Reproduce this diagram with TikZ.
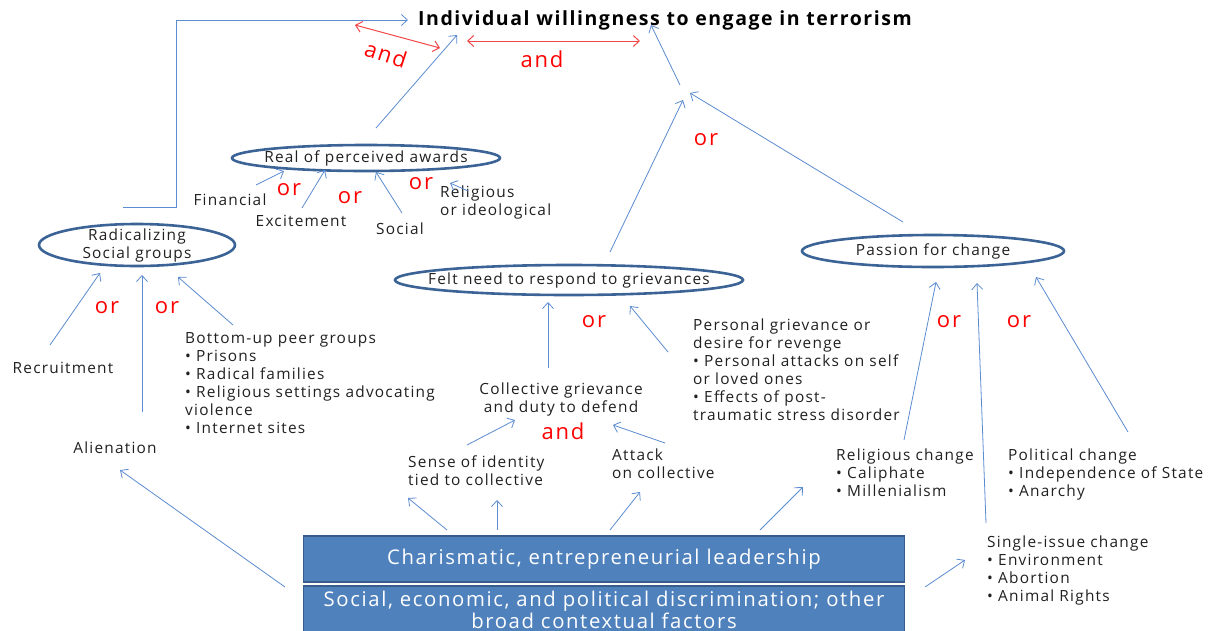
\documentclass[tikz,border=0pt]{standalone}
\usepackage{fontspec}
\setmainfont{Open Sans}[LetterSpace=8]
\usetikzlibrary{shapes.geometric,arrows.meta}
\definecolor{lnblue}{HTML}{5B8BD0}
\definecolor{ellblue}{HTML}{3C6396}
\definecolor{boxfill}{HTML}{4F81BD}
\definecolor{boxedge}{HTML}{385D8A}
\definecolor{andred}{HTML}{F04848}
\definecolor{txtc}{HTML}{202020}
\tikzset{
  arr/.style={draw=lnblue, line width=0.8pt, -{Straight Barb[length=6pt,width=11pt]}},
  redarr/.style={draw=andred, line width=1pt, {Straight Barb[length=6pt,width=11pt]}-{Straight Barb[length=6pt,width=11pt]}},
  ell/.style={ellipse, draw=ellblue, line width=2.6pt, inner sep=0pt},
  txt/.style={font=\fontsize{15.4}{18}\selectfont, inner sep=0pt, align=left, text=txtc},
  redlab/.style={font=\fontsize{22}{22}\selectfont, inner sep=0pt, text=red},
  bluebox/.style={rectangle, fill=boxfill, draw=boxedge, line width=1.5pt, text=white, font=\fontsize{20.3}{22}\selectfont, align=center, inner sep=0pt, minimum width=601pt}
}
\begin{document}
\begin{tikzpicture}[x=1pt,y=-1pt]
\useasboundingbox (0,0) rectangle (1210,630);

% title
\node[font=\bfseries\fontsize{19.5}{22}\selectfont, inner sep=0pt, text=black] (title) at (665,20) {Individual willingness to engage in terrorism};

% ellipses
\node[ell, minimum width=268pt, minimum height=26pt, label={[txt]center:Real of perceived awards}] (awards) at (366,158) {};
\node[ell, minimum width=196pt, minimum height=42pt, label={[txt,align=center]center:Radicalizing\\Social groups}] (radical) at (137,245) {};
\node[ell, minimum width=348pt, minimum height=30pt, label={[txt]center:Felt need to respond to grievances}] (felt) at (569,280) {};
\node[ell, minimum width=262pt, minimum height=32pt, label={[txt]center:Passion for change}] (passion) at (933,251) {};

% boxes
\node[bluebox, minimum height=46pt] (lead) at (604,559) {Charismatic, entrepreneurial leadership};
\node[bluebox, minimum height=48pt] (social) at (604,610) {Social, economic, and political discrimination; other\\broad contextual factors};

% text nodes
\node[txt] (financial) at (230,200) {Financial};
\node[txt] (excite) at (301,221) {Excitement};
\node[txt] (socialaw) at (400,229) {Social};
\node[txt, anchor=west] (relig) at (440,202) {Religious\\or ideological};
\node[txt] (recruit) at (63,368) {Recruitment};
\node[txt] (alien) at (115,448) {Alienation};
\node[txt, anchor=west] (bottomup) at (185,383) {Bottom-up peer groups\\\textbullet{} Prisons\\\textbullet{} Radical families\\\textbullet{} Religious settings advocating\\violence\\\textbullet{} Internet sites};
\node[txt, align=center] (collective) at (561,399) {Collective grievance\\and duty to defend};
\node[txt, anchor=west] (personal) at (693,370) {Personal grievance or\\desire for revenge\\\textbullet{} Personal attacks on self\\or loved ones\\\textbullet{} Effects of post-\\traumatic stress disorder};
\node[txt, anchor=west] (sense) at (408,471) {Sense of identity\\tied to collective};
\node[txt, anchor=west] (attack) at (612,464) {Attack\\on collective};
\node[txt, anchor=west] (religch) at (836,473) {Religious change\\\textbullet{} Caliphate\\\textbullet{} Millenialism};
\node[txt, anchor=west] (polit) at (1008,474) {Political change\\\textbullet{} Independence of State\\\textbullet{} Anarchy};
\node[txt, anchor=west] (single) at (987,570) {Single-issue change\\\textbullet{} Environment\\\textbullet{} Abortion\\\textbullet{} Animal Rights};

% red labels
\node[redlab, rotate=-18] (and1) at (386,54) {and};
\node[redlab] (and2) at (542,59) {and};
\node[redlab] (or1) at (706,140) {or};
\node[redlab] (or2) at (289,190) {or};
\node[redlab] (or3) at (350,198) {or};
\node[redlab] (or4) at (421,184) {or};
\node[redlab] (or5) at (107,308) {or};
\node[redlab] (or6) at (167,308) {or};
\node[redlab] (or7) at (594,322) {or};
\node[redlab] (and3) at (563,431) {and};
\node[redlab] (or8) at (949,322) {or};
\node[redlab] (or9) at (1019,322) {or};

% coordinates
\coordinate (radTop) at (123,207);
\coordinate (c1) at (176,207);
\coordinate (c2) at (176,20);
\coordinate (titleL) at (408,20);
\coordinate (awTop) at (376,128);
\coordinate (titleA) at (457,35);
\coordinate (andL1) at (355,25);
\coordinate (andL2) at (440,48);
\coordinate (andM1) at (467,41);
\coordinate (andM2) at (640,41);
\coordinate (orPt) at (680,85);
\coordinate (titleB) at (651,25);
\coordinate (feltTop) at (610,252);
\coordinate (orIn1) at (683,100);
\coordinate (passTop) at (903,222);
\coordinate (orIn2) at (690,93);
\coordinate (finS) at (256,185);
\coordinate (finE) at (284,171);
\coordinate (excS) at (302,208);
\coordinate (excE) at (325,170);
\coordinate (socS) at (402,213);
\coordinate (socE) at (376,172);
\coordinate (relS) at (468,191);
\coordinate (relE) at (450,183);
\coordinate (recS) at (50,345);
\coordinate (recE) at (100,273);
\coordinate (aliS) at (142,412);
\coordinate (aliE) at (142,275);
\coordinate (botS) at (233,325);
\coordinate (botE) at (178,277);
\coordinate (socL) at (285,587);
\coordinate (aliIn) at (120,470);
\coordinate (colS) at (548,368);
\coordinate (colE) at (548,302);
\coordinate (perS) at (668,352);
\coordinate (perE) at (630,306);
\coordinate (senS) at (467,445);
\coordinate (senE) at (515,420);
\coordinate (attS) at (665,443);
\coordinate (attE) at (613,425);
\coordinate (ld1) at (447,530);
\coordinate (ld1e) at (408,498);
\coordinate (ld2) at (497,530);
\coordinate (ld2e) at (497,500);
\coordinate (ld3) at (610,530);
\coordinate (ld3e) at (640,492);
\coordinate (ld4) at (760,530);
\coordinate (ld4e) at (803,487);
\coordinate (rcS) at (904,440);
\coordinate (rcE) at (936,282);
\coordinate (siS) at (986,523);
\coordinate (siE) at (977,283);
\coordinate (poS) at (1128,432);
\coordinate (poE) at (1036,277);
\coordinate (socR) at (925,587);
\coordinate (siIn) at (965,560);

% connectors
\draw[arr] (radTop) -- (c1) -- (c2) -- (titleL);
\draw[arr] (awTop) -- (titleA);
\draw[redarr] (andL1) -- (andL2);
\draw[redarr] (andM1) -- (andM2);
\draw[arr] (orPt) -- (titleB);
\draw[arr] (feltTop) -- (orIn1);
\draw[arr] (passTop) -- (orIn2);
\draw[arr] (finS) -- (finE);
\draw[arr] (excS) -- (excE);
\draw[arr] (socS) -- (socE);
\draw[arr] (relS) -- (relE);
\draw[arr] (recS) -- (recE);
\draw[arr] (aliS) -- (aliE);
\draw[arr] (botS) -- (botE);
\draw[arr] (socL) -- (aliIn);
\draw[arr] (colS) -- (colE);
\draw[arr] (perS) -- (perE);
\draw[arr] (senS) -- (senE);
\draw[arr] (attS) -- (attE);
\draw[arr] (ld1) -- (ld1e);
\draw[arr] (ld2) -- (ld2e);
\draw[arr] (ld3) -- (ld3e);
\draw[arr] (ld4) -- (ld4e);
\draw[arr] (rcS) -- (rcE);
\draw[arr] (siS) -- (siE);
\draw[arr] (poS) -- (poE);
\draw[arr] (socR) -- (siIn);
\end{tikzpicture}
\end{document}
